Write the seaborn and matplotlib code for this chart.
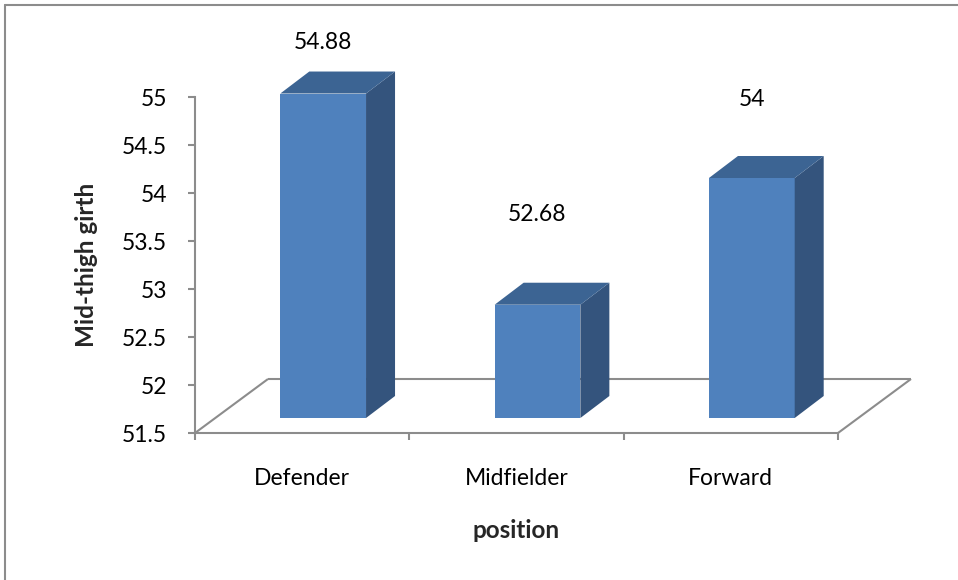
import matplotlib
matplotlib.use("Agg")
import matplotlib.pyplot as plt
from matplotlib.patches import Polygon
from matplotlib.lines import Line2D
import seaborn as sns
import pandas as pd

# Mean mid-thigh girth by playing position
positions = ["Defender", "Midfielder", "Forward"]
girth = [54.88, 52.68, 54.0]
value_labels = ["54.88", "52.68", "54"]
y_ticks = [51.5, 52, 52.5, 53, 53.5, 54, 54.5, 55]
y_tick_labels = ["51.5", "52", "52.5", "53", "53.5", "54", "54.5", "55"]
# how far above each bar its value label sits (data units)
label_lift = [0.69, 1.10, 0.97]

W, H = 958, 580
BASE = y_ticks[0]

FRONT = "#4f81bd"
SIDE = "#34547d"
TOP = "#3c6493"
GREY = "#8c8c8c"
TXT = 16.5
BOLD_TXT = 17.5

sns.set_style("white")
plt.rcParams["font.family"] = ["Lato", "DejaVu Sans"]

fig = plt.figure(figsize=(W / 100, H / 100), dpi=100)
ax = fig.add_axes([195 / W, (H - 433) / H, (838 - 195) / W, (433 - 97) / H])

df = pd.DataFrame({"position": positions, "girth": girth})
sns.barplot(data=df, x="position", y="girth", ax=ax, color=FRONT,
            saturation=1, width=0.4, linewidth=0, zorder=3)

ax.set_xlim(-0.5, 2.5)
ax.set_ylim(BASE, y_ticks[-1])


def px_to_data(dx, dy):
    inv = ax.transData.inverted()
    x0, y0 = inv.transform((0, 0))
    x1, y1 = inv.transform((dx, dy))
    return x1 - x0, y1 - y0


# pseudo-3D geometry (pixel offsets converted to data units)
ox, oy = px_to_data(21, 15)      # bars sit in the middle of the floor depth
sx, sy = px_to_data(29, 22)      # bar depth
fx, fy = px_to_data(73, 54)      # floor depth

# floor outline
x_lo, x_hi = ax.get_xlim()
floor_kw = dict(color=GREY, lw=1.5, zorder=1, clip_on=False, solid_capstyle="butt")
ax.add_line(Line2D([x_lo, x_lo + fx], [BASE, BASE + fy], **floor_kw))
ax.add_line(Line2D([x_hi, x_hi + fx], [BASE, BASE + fy], **floor_kw))
ax.add_line(Line2D([x_lo + fx, x_hi + fx], [BASE + fy, BASE + fy], **floor_kw))

bars = [p for p in ax.patches]
for i, (p, val) in enumerate(zip(bars, girth)):
    x0 = p.get_x()
    w = p.get_width()
    p.set_xy((x0 + ox, BASE + oy))
    p.set_height(val - BASE)
    p.set_clip_on(False)
    xl, xr = x0 + ox, x0 + ox + w
    yb, yt = BASE + oy, val + oy
    side = Polygon([(xr, yb), (xr, yt), (xr + sx, yt + sy), (xr + sx, yb + sy)],
                   closed=True, facecolor=SIDE, edgecolor="none", zorder=3, clip_on=False)
    top = Polygon([(xl, yt), (xr, yt), (xr + sx, yt + sy), (xl + sx, yt + sy)],
                  closed=True, facecolor=TOP, edgecolor="none", zorder=3, clip_on=False)
    ax.add_patch(side)
    ax.add_patch(top)
    ax.text(i + ox, val + label_lift[i], value_labels[i], ha="center", va="center",
            fontsize=TXT, color="black", zorder=5, clip_on=False)

# axes styling
for s in ["top", "right"]:
    ax.spines[s].set_visible(False)
for s in ["left", "bottom"]:
    ax.spines[s].set_color(GREY)
    ax.spines[s].set_linewidth(1.5)
    ax.spines[s].set_zorder(2)

ax.set_yticks(y_ticks)
ax.set_yticklabels(y_tick_labels)
ax.tick_params(axis="y", which="major", direction="out", length=5, width=1.5,
               color=GREY, pad=15, labelsize=TXT, labelcolor="black", left=True)

ax.set_xticks(range(len(positions)))
ax.set_xticklabels(positions)
ax.set_xticks([-0.5, 0.5, 1.5, 2.5], minor=True)
ax.tick_params(axis="x", which="major", length=0, pad=25, labelsize=TXT,
               labelcolor="black")
ax.tick_params(axis="x", which="minor", direction="out", length=5, width=1.5,
               color=GREY, bottom=True)

ax.set_ylabel("Mid-thigh girth", fontsize=BOLD_TXT, fontweight="bold")
ax.yaxis.set_label_coords((86 - 195) / (838 - 195), 0.5)
ax.yaxis.label.set_va("center")
ax.set_xlabel("position", fontsize=BOLD_TXT, fontweight="bold")
ax.xaxis.set_label_coords(0.5, (433 - 530) / (433 - 97))
ax.xaxis.label.set_va("center")

# chart area border
fig.add_artist(Line2D([5 / W, 5 / W], [0, 1 - 5 / H], transform=fig.transFigure,
                      color=GREY, lw=1.5))
fig.add_artist(Line2D([5 / W, 1], [1 - 5 / H, 1 - 5 / H], transform=fig.transFigure,
                      color=GREY, lw=1.5))

fig.savefig("out.png", dpi=100)
